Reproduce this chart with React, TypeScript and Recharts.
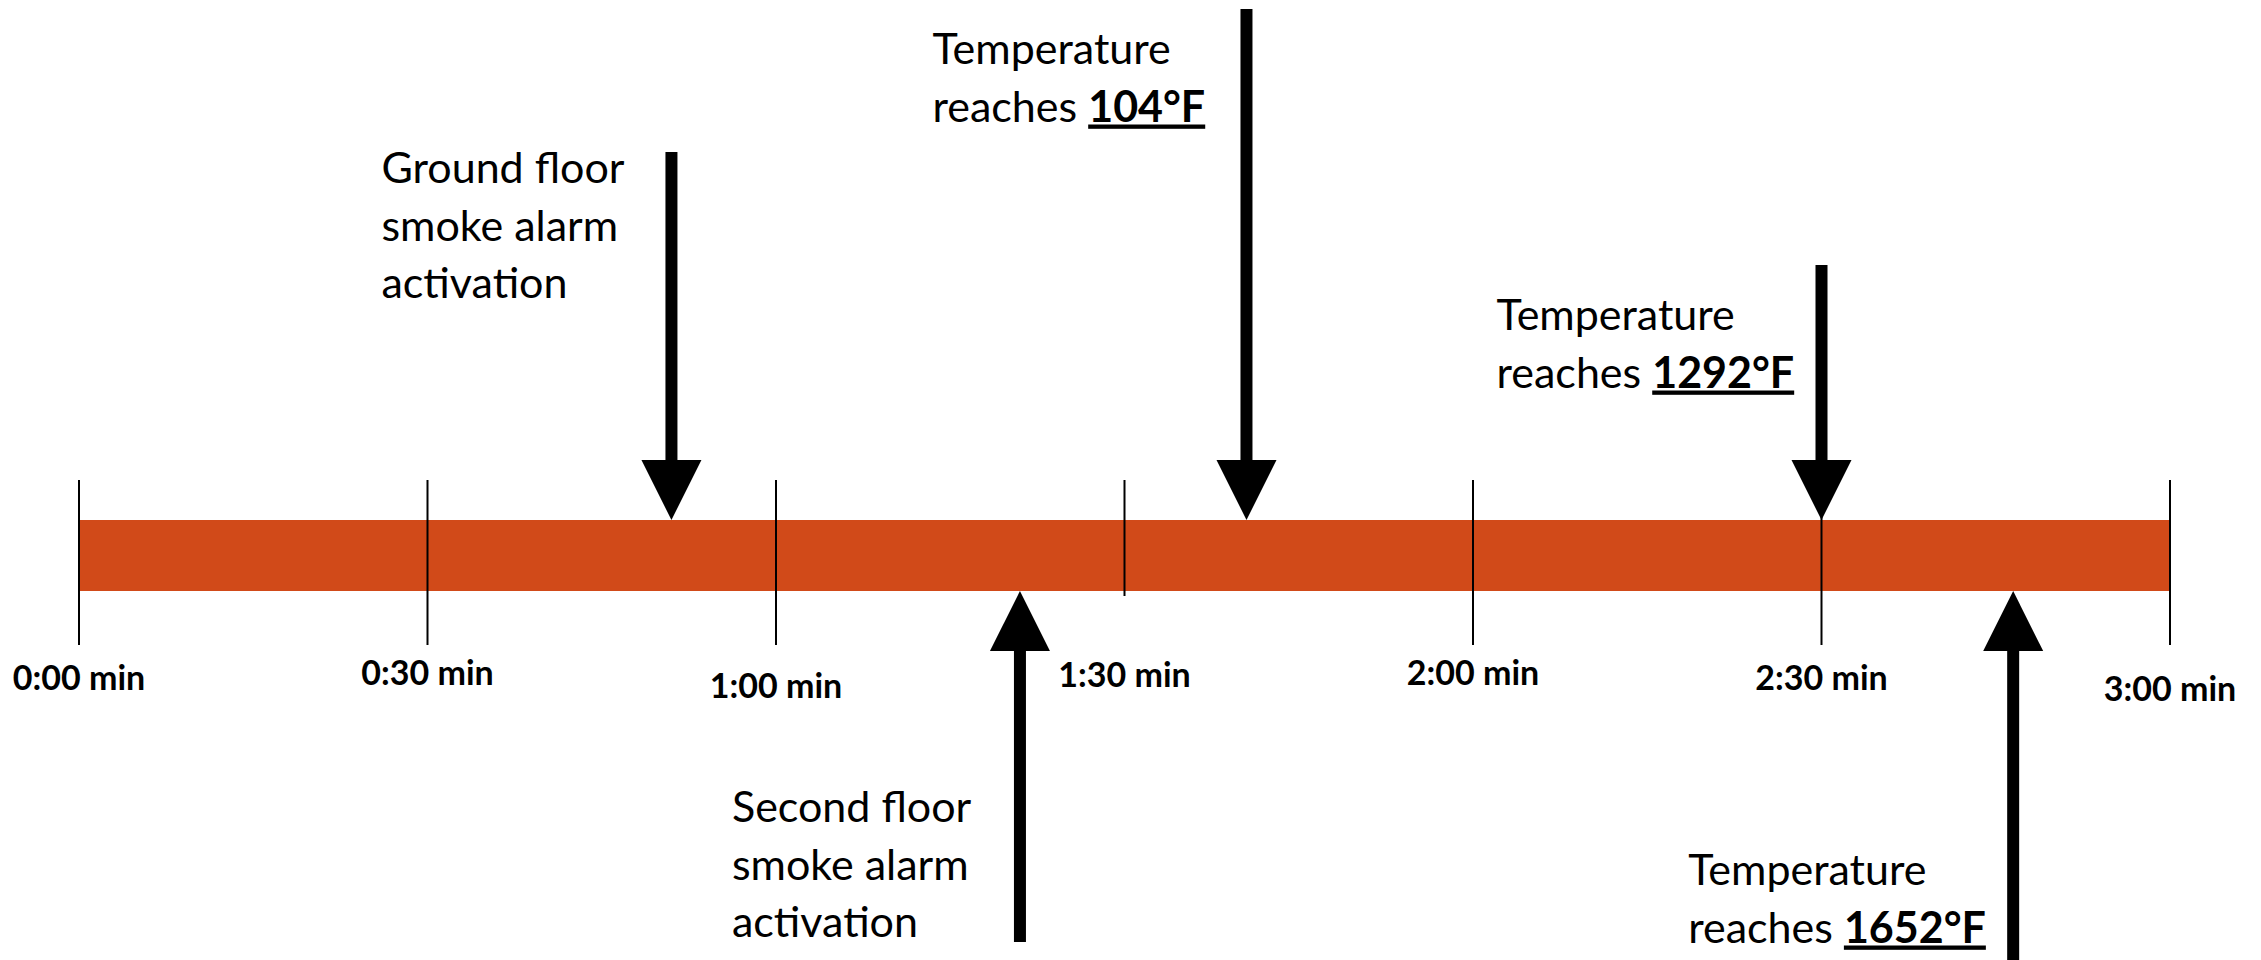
import React from "react";
import {
  ComposedChart,
  XAxis,
  YAxis,
  Scatter,
  ReferenceArea,
  ReferenceLine,
} from "recharts";

// timeline ticks (seconds)
const TICK_SECONDS = [0, 30, 60, 90, 120, 150, 180];
const TICK_LABELS = [
  "0:00 min",
  "0:30 min",
  "1:00 min",
  "1:30 min",
  "2:00 min",
  "2:30 min",
  "3:00 min",
];

// events along the timeline
const EVENT_SECONDS = [51, 81, 100.5, 150, 166.5];
const EVENT_LINES = [
  ["Ground floor", "smoke alarm", "activation"],
  ["Second floor", "smoke alarm", "activation"],
  ["Temperature", "reaches "],
  ["Temperature", "reaches "],
  ["Temperature", "reaches "],
];
const EVENT_TEMPS = ["", "", "104°F", "1292°F", "1652°F"];
const EVENT_FROM_ABOVE = [true, false, true, true, false];

// layout (pixel units of the hidden y axis)
const W = 2261;
const H = 960;
const BAR_TOP = 520;
const BAR_BOTTOM = 591;
const TICK_TOP = 480;
const TICK_BOTTOM = [645, 645, 645, 596, 645, 645, 645];
const TICK_LABEL_Y = [690, 685, 698, 687, 685, 690, 701];
const ARROW_TAIL = [152, 942, 9, 265, 960];
const LABEL_OFFSET = [
  [-290, -337],
  [-288, 231],
  [-314, -456],
  [-325, -190],
  [-325, 294],
];
const HEAD_W = 60;
const HEAD_H = 60;
const BAR_COLOR = "#D14A19";
const FONT = "Lato, 'Open Sans', sans-serif";

const tickLabelData = TICK_SECONDS.map((t, i) => ({
  t,
  y: TICK_LABEL_Y[i],
  label: TICK_LABELS[i],
}));

const eventData = EVENT_SECONDS.map((t, i) => ({
  t,
  y: EVENT_FROM_ABOVE[i] ? BAR_TOP : BAR_BOTTOM,
  idx: i,
}));

const TickLabel = (props: any) => {
  const { cx, cy, payload } = props;
  return (
    <text
      x={cx}
      y={cy}
      textAnchor="middle"
      fontFamily={FONT}
      fontWeight={700}
      fontSize={34}
      fill="#000"
    >
      {payload.label}
    </text>
  );
};

const EventMarker = (props: any) => {
  const { cx, cy, payload } = props;
  const i = payload.idx;
  const dir = EVENT_FROM_ABOVE[i] ? -1 : 1;
  const baseY = cy + dir * HEAD_H;
  const [dx, dy] = LABEL_OFFSET[i];
  const lines = EVENT_LINES[i];
  return (
    <g>
      <polygon
        points={`${cx},${cy} ${cx - HEAD_W / 2},${baseY} ${cx + HEAD_W / 2},${baseY}`}
        fill="#000"
      />
      <text fontFamily={FONT} fontSize={43} fill="#000">
        {lines.map((line, k) => (
          <tspan key={k} x={cx + dx} y={cy + dy + k * 57.5}>
            {line}
            {k === lines.length - 1 && EVENT_TEMPS[i] ? (
              <tspan fontWeight={700} style={{ textDecoration: "underline" }}>
                {EVENT_TEMPS[i]}
              </tspan>
            ) : null}
          </tspan>
        ))}
      </text>
    </g>
  );
};

export default function App() {
  return (
    <div style={{ position: "absolute", left: 0, top: 0, background: "#fff" }}>
      <ComposedChart
        width={W}
        height={H}
        margin={{ top: 0, right: 91, bottom: 0, left: 79 }}
      >
        <XAxis
          dataKey="t"
          type="number"
          domain={[0, 180]}
          ticks={TICK_SECONDS}
          hide
        />
        <YAxis
          dataKey="y"
          type="number"
          domain={[0, H]}
          reversed
          allowDataOverflow
          hide
        />
        <ReferenceArea
          x1={0}
          x2={180}
          y1={BAR_TOP}
          y2={BAR_BOTTOM}
          fill={BAR_COLOR}
          fillOpacity={1}
          stroke="none"
        />
        {TICK_SECONDS.map((t, i) => (
          <ReferenceLine
            key={`tick-${t}`}
            segment={[
              { x: t, y: TICK_TOP },
              { x: t, y: TICK_BOTTOM[i] },
            ]}
            stroke="#000"
            strokeWidth={2}
          />
        ))}
        {EVENT_SECONDS.map((t, i) => (
          <ReferenceLine
            key={`shaft-${i}`}
            segment={[
              { x: t, y: ARROW_TAIL[i] },
              {
                x: t,
                y: EVENT_FROM_ABOVE[i] ? BAR_TOP - HEAD_H + 2 : BAR_BOTTOM + HEAD_H - 2,
              },
            ]}
            stroke="#000"
            strokeWidth={12}
          />
        ))}
        <Scatter
          data={eventData}
          dataKey="y"
          shape={EventMarker}
          isAnimationActive={false}
        />
        <Scatter
          data={tickLabelData}
          dataKey="y"
          shape={TickLabel}
          isAnimationActive={false}
        />
      </ComposedChart>
    </div>
  );
}
